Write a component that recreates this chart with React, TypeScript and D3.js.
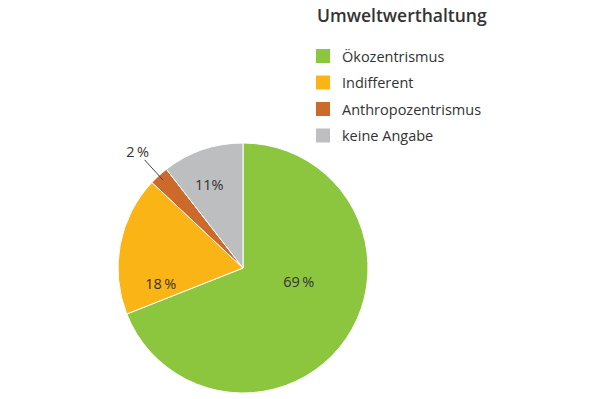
import React from "react";
import * as d3 from "d3";

const categories = ["Ökozentrismus", "Indifferent", "Anthropozentrismus", "keine Angabe"];
const shares = [69, 18, 2.5, 10.5];
const labels = ["69\u2009%", "18\u2009%", "2\u2009%", "11%"];
const colors = ["#8cc63f", "#fbb415", "#cc6a2b", "#bcbec0"];
const title = "Umweltwerthaltung";

export default function App() {
  const cx = 243, cy = 268, r = 125;
  const pie = d3.pie<number>().sort(null).value(d => d)(shares);
  const arc = d3.arc<d3.PieArcDatum<number>>().innerRadius(0).outerRadius(r);
  const font = "'Open Sans', 'Noto Sans', sans-serif";
  // label placement: [angle (deg, clockwise from top), radius fraction]
  const labelPlace: [number, number][] = [[104, 0.46], [259, 0.67], [0, 0], [338, 0.72]];
  return (
    <svg width={600} height={399} style={{ position: "absolute", left: 0, top: 0, background: "#fff" }}>
      <g transform={`translate(${cx},${cy})`}>
        {pie.map((p, i) => (
          <path key={i} d={arc(p) || ""} fill={colors[i]} stroke="#fff" strokeWidth={1} />
        ))}
        {pie.map((p, i) => {
          if (i === 2) {
            const mid = (p.startAngle + p.endAngle) / 2;
            const x1 = Math.sin(mid) * (r * 0.95), y1 = -Math.cos(mid) * (r * 0.95);
            const x2 = Math.sin(mid) * (r * 1.17), y2 = -Math.cos(mid) * (r * 1.17);
            return (
              <g key={i}>
                <line x1={x1} y1={y1} x2={x2} y2={y2} stroke="#444" strokeWidth={1} />
                <text x={x2 - 7} y={y2 - 8} textAnchor="middle" dominantBaseline="central" fontSize={14.5} fill="#333" fontFamily={font}>{labels[i]}</text>
              </g>
            );
          }
          const a = (labelPlace[i][0] * Math.PI) / 180;
          const rr = labelPlace[i][1] * r;
          return (
            <text key={i} x={Math.sin(a) * rr} y={-Math.cos(a) * rr} textAnchor="middle" dominantBaseline="central" fontSize={14.5} fill="#333" fontFamily={font}>{labels[i]}</text>
          );
        })}
      </g>
      <text x={317} y={22} fontSize={17.5} fontWeight={600} fill="#333" fontFamily={font}>{title}</text>
      {categories.map((c, i) => (
        <g key={c} transform={`translate(316,${49 + i * 26.5})`}>
          <rect x={0} y={0} width={14} height={14} fill={colors[i]} />
          <text x={26} y={7} dominantBaseline="central" fontSize={14.5} fill="#333" fontFamily={font}>{c}</text>
        </g>
      ))}
    </svg>
  );
}
